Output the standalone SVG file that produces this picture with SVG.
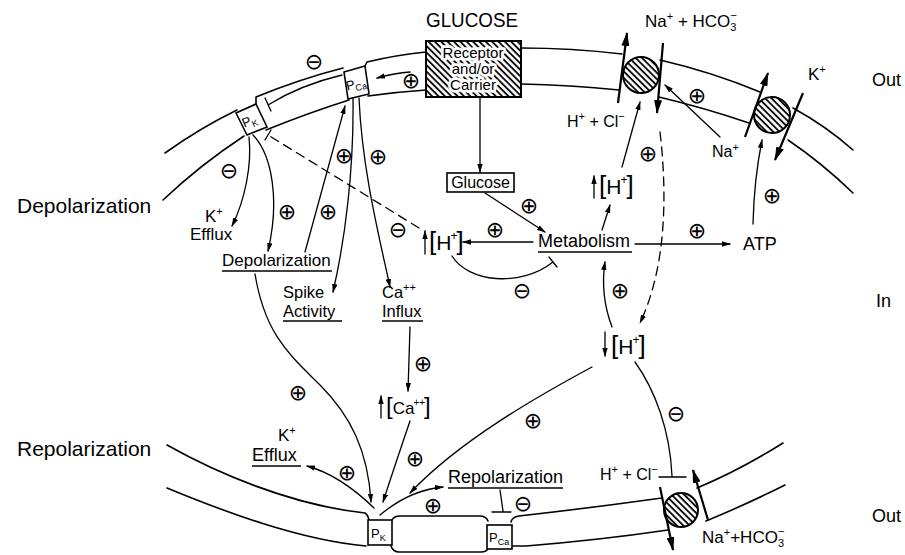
<svg xmlns="http://www.w3.org/2000/svg" width="905" height="555" viewBox="0 0 905 555">
<style>
.m{fill:none;stroke:#000;stroke-width:1.6;stroke-linecap:round;stroke-linejoin:round}
.c{fill:none;stroke:#000;stroke-width:1.3;stroke-linecap:round}
.ar{marker-end:url(#a)}
.d{stroke-dasharray:9 6}
.bg{fill:none;stroke:#000;stroke-width:2.2;marker-end:url(#B)}
.t{font-family:"Liberation Sans",Arial,sans-serif;fill:#000}
.s{font-family:"DejaVu Sans",sans-serif;font-size:22px;text-anchor:middle;dominant-baseline:central}
.hat{fill:url(#h);stroke:#000;stroke-width:2}
.box{fill:#fff;stroke:#000;stroke-width:1.6}
.ul{stroke:#000;stroke-width:1.3}
.ko{stroke:#fff;stroke-width:5.5;paint-order:stroke;stroke-linejoin:round}
</style>
<defs>
<pattern id="h" width="4.5" height="4.5" patternUnits="userSpaceOnUse" patternTransform="rotate(45)"><rect width="4.5" height="4.5" fill="#fff"/><line x1="0" y1="1" x2="4.5" y2="1" stroke="#000" stroke-width="1.8"/></pattern>
<marker id="a" viewBox="0 0 10 6" refX="9" refY="3" markerWidth="9" markerHeight="5.4" markerUnits="userSpaceOnUse" orient="auto"><path d="M0,0L10,3L0,6z"/></marker>
<marker id="B" viewBox="0 0 14 8" refX="13" refY="4" markerWidth="14" markerHeight="8" markerUnits="userSpaceOnUse" orient="auto"><path d="M0,0L14,4L0,8z"/></marker>
</defs>
<rect width="905" height="555" fill="#fff"/>

<g id="membrane-top" class="m">
<path d="M165,153 Q200,128 237,110"/>
<path d="M163,200 Q200,165 244,136"/>
<path d="M256,104 L256,97 Q300,79 343,68"/>
<path d="M266,130 Q308,113 349,100"/>
<path d="M365,66 L367,62 Q396,55 426,52"/>
<path d="M368,96 Q396,92 426,90"/>
<path d="M521,48 Q572,48 622,54"/>
<path d="M521,84 Q570,85 619,90"/>
<path d="M660,60 Q712,72 760,92"/>
<path d="M659,97 Q705,108 749,123"/>
<path d="M793,108 Q826,126 853,150"/>
<path d="M788,140 Q822,163 853,193"/>
</g>

<g id="membrane-bottom" class="m">
<path d="M167,445 C215,472 290,505 365,513 Q368,515 369,520"/>
<path d="M167,488 C225,512 300,540 366,546"/>
<path d="M392,520 Q394,516 400,516 L480,516 Q486,516 488,521"/>
<path d="M391,546 Q393,552 399,552 L481,552 Q487,552 489,547"/>
<path d="M511,522 Q512,517 519,516 Q590,508 662,498"/>
<path d="M512,546 Q518,546 526,546 Q600,540 668,530"/>
<path d="M697,488 Q740,470 783,443"/>
<path d="M706,521 Q745,505 785,485"/>
</g>

<g id="pk-top"><polygon class="box" points="236,113 256,104 267,127 247,135"/><text class="t" font-size="13" text-anchor="middle" transform="translate(251,125) rotate(-23)">P<tspan font-size="9" dy="3">K</tspan></text></g>
<g id="pca-top"><polygon class="box" points="344,72 365,66 369,94 348,99"/><text class="t" font-size="13" text-anchor="middle" transform="translate(357,88) rotate(-14)">P<tspan font-size="9" dy="3">Ca</tspan></text></g>
<g id="receptor"><rect class="hat" x="426" y="41" width="95" height="56"/>
<text class="t ko" font-size="15" text-anchor="middle" x="473" y="58">Receptor</text>
<text class="t ko" font-size="15" text-anchor="middle" x="473" y="74">and/or</text>
<text class="t ko" font-size="15" text-anchor="middle" x="473" y="90">Carrier</text></g>
<g id="glucose-ext"><text class="t" font-size="21" x="426" y="27" textLength="92" lengthAdjust="spacingAndGlyphs">GLUCOSE</text></g>
<g id="exchanger-1"><circle class="hat" cx="641" cy="75" r="18"/></g>
<g id="exchanger-2"><circle class="hat" cx="772" cy="115" r="18"/></g>
<g id="exchanger-3"><circle class="hat" cx="681" cy="510" r="17"/></g>
<g id="pk-bottom"><rect class="box" x="368" y="520" width="24" height="25"/><text class="t" font-size="13" x="371" y="538">P<tspan font-size="9" dy="3">K</tspan></text></g>
<g id="pca-bottom"><rect class="box" x="487" y="525" width="25" height="24"/><text class="t" font-size="13" x="489" y="542">P<tspan font-size="9" dy="3">Ca</tspan></text></g>

<g id="connectors">
<path class="c ar" d="M410,72 Q395,73 377,78"/>
<path class="c" d="M342,75 Q300,85 268,105 M265,98 L271,111"/>
<path class="c ar" d="M480,97 L480,172"/>
<path class="c ar" d="M485,193 L545,232"/>
<path class="c ar" d="M533,242 L463,242"/>
<path class="c" d="M452,256 C468,282 520,288 553,262 M549,257 L557,267"/>
<path class="c d" d="M419,228 L268,135"/>
<path class="c" d="M271,130 L265,140"/>
<path class="c ar" d="M602,230 L610,205"/>
<path class="c ar" d="M622,167 L640,102"/>
<path class="c d ar" d="M660,132 C668,200 665,270 640,323"/>
<path class="c ar" d="M635,244 L730,244"/>
<path class="c ar" d="M753,224 Q754,180 762,140"/>
<path class="c ar" d="M612,327 Q600,295 605,262"/>
<path class="c ar" d="M592,367 C540,395 460,440 410,493"/>
<path class="c" d="M635,362 C655,390 670,430 672,476 M659,477 L686,477"/>
<path class="c ar" d="M255,274 C265,335 290,355 320,385 C350,415 368,450 371,502"/>
<path class="c ar" d="M410,421 Q395,465 383,502"/>
<path class="c ar" d="M410,327 L408,391"/>
<path class="c ar" d="M374,508 Q340,475 307,466"/>
<path class="c ar" d="M380,515 Q410,490 443,487"/>
<path class="c" d="M500,490 L503,511 M492,512 L511,512"/>
<path class="c ar" d="M249,137 C252,165 245,200 232,226"/>
<path class="c ar" d="M253,135 C272,155 280,200 268,251"/>
<path class="c ar" d="M305,252 L345,106"/>
<path class="c ar" d="M353,98 C354,170 345,240 333,292"/>
<path class="c ar" d="M359,98 C362,170 380,240 390,287"/>
<path class="c ar" d="M720,137 L665,85"/>
<path class="bg" d="M618,103 L627,33"/>
<path class="bg" d="M663,43 L657,113"/>
<path class="bg" d="M745,137 L768,73"/>
<path class="bg" d="M803,93 L775,160"/>
<path class="bg" d="M660,487 L673,550"/>
<path class="bg" d="M708,520 L693,470"/>
<path class="c ar" d="M594,198 L594,176"/>
<path class="c ar" d="M425,254 L425,231"/>
<path class="c ar" d="M605,332 L605,356"/>
<path class="c ar" d="M381,418 L381,396"/>
</g>

<g id="labels" class="t">
<text x="645" y="27" font-size="17">Na<tspan font-size="11" dy="-7">+</tspan><tspan dy="7"> + HCO</tspan><tspan font-size="11" dy="4">3</tspan><tspan font-size="11" dx="-6" dy="-12">−</tspan></text>
<text x="808" y="80" font-size="17">K<tspan font-size="11" dy="-7">+</tspan></text>
<text x="872" y="86" font-size="18">Out</text>
<text x="712" y="157" font-size="16">Na<tspan font-size="11" dy="-6">+</tspan></text>
<text x="567" y="127" font-size="16">H<tspan font-size="11" dy="-7">+</tspan><tspan dy="7"> + Cl</tspan><tspan font-size="11" dy="-7">−</tspan></text>
<text x="599" y="194"><tspan font-size="26">[</tspan><tspan font-size="21">H</tspan><tspan font-size="12" dx="-1" dy="-10">+</tspan><tspan font-size="26" dx="-1" dy="10">]</tspan></text>
<text x="429" y="250"><tspan font-size="26">[</tspan><tspan font-size="21">H</tspan><tspan font-size="12" dx="-1" dy="-10">+</tspan><tspan font-size="26" dx="-1" dy="10">]</tspan></text>
<text x="611" y="354"><tspan font-size="26">[</tspan><tspan font-size="21">H</tspan><tspan font-size="12" dx="-1" dy="-10">+</tspan><tspan font-size="26" dx="-1" dy="10">]</tspan></text>
<text x="386" y="414"><tspan font-size="24">[</tspan><tspan font-size="17">Ca</tspan><tspan font-size="10" dx="-1" dy="-8">++</tspan><tspan font-size="24" dx="-1" dy="8">]</tspan></text>
<text x="538" y="247" font-size="18">Metabolism</text><line class="ul" x1="538" y1="252" x2="632" y2="252"/>
<text x="743" y="250" font-size="18">ATP</text>
<rect class="box" x="447" y="173" width="67" height="19"/><text x="480.5" y="188" font-size="16" text-anchor="middle">Glucose</text>
<text x="17" y="213" font-size="21">Depolarization</text>
<text x="205" y="222" font-size="17">K<tspan font-size="11" dy="-7">+</tspan></text>
<text x="190" y="240" font-size="17">Efflux</text>
<text x="222" y="266" font-size="17">Depolarization</text><line class="ul" x1="222" y1="271" x2="332" y2="271"/>
<text x="283" y="298" font-size="16.5">Spike</text>
<text x="283" y="317" font-size="16.5">Activity</text><line class="ul" x1="283" y1="321" x2="342" y2="321"/>
<text x="382" y="298" font-size="16.5">Ca<tspan font-size="11" dy="-7">++</tspan></text>
<text x="382" y="317" font-size="16.5">Influx</text><line class="ul" x1="382" y1="321" x2="423" y2="321"/>
<text x="876" y="307" font-size="18">In</text>
<text x="17" y="456" font-size="21">Repolarization</text>
<text x="278" y="441" font-size="17">K<tspan font-size="11" dy="-7">+</tspan></text>
<text x="252" y="461" font-size="18">Efflux</text><line class="ul" x1="252" y1="466" x2="301" y2="466"/>
<text x="448" y="483" font-size="18">Repolarization</text><line class="ul" x1="448" y1="488" x2="563" y2="488"/>
<text x="600" y="480" font-size="16">H<tspan font-size="11" dy="-7">+</tspan><tspan dy="7"> + Cl</tspan><tspan font-size="11" dy="-7">−</tspan></text>
<text x="702" y="543" font-size="17">Na<tspan font-size="11" dy="-7">+</tspan><tspan dy="7">+HCO</tspan><tspan font-size="11" dy="4">3</tspan><tspan font-size="11" dx="-6" dy="-12">−</tspan></text>
<text x="872" y="522" font-size="18">Out</text>
</g>

<g id="signs" class="s">
<text x="314" y="61">⊖</text>
<text x="411" y="80">⊕</text>
<text x="229" y="170">⊖</text>
<text x="287" y="211">⊕</text>
<text x="328" y="211">⊕</text>
<text x="344" y="155">⊕</text>
<text x="378" y="156">⊕</text>
<text x="398" y="229">⊖</text>
<text x="495" y="229">⊕</text>
<text x="529" y="205">⊕</text>
<text x="522" y="290">⊖</text>
<text x="648" y="153">⊕</text>
<text x="697" y="95">⊕</text>
<text x="697" y="230">⊕</text>
<text x="772" y="195">⊕</text>
<text x="620" y="290">⊕</text>
<text x="423" y="363">⊕</text>
<text x="298" y="392">⊕</text>
<text x="415" y="458">⊕</text>
<text x="347" y="472">⊕</text>
<text x="533" y="420">⊕</text>
<text x="433" y="505">⊕</text>
<text x="523" y="503">⊖</text>
<text x="676" y="413">⊖</text>
</g>
</svg>
